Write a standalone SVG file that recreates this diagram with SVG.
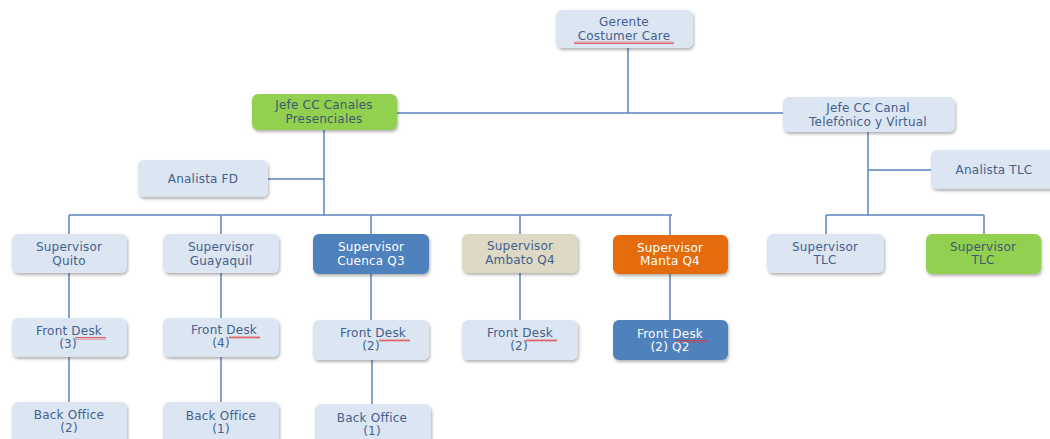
<svg xmlns="http://www.w3.org/2000/svg" width="1050" height="439" viewBox="0 0 1050 439">
<defs>
<filter id="sh" x="-10%" y="-20%" width="125%" height="150%">
<feDropShadow dx="1" dy="2" stdDeviation="1.5" flood-color="#000" flood-opacity="0.3"/>
</filter>
<pattern id="wv" width="4" height="3" patternUnits="userSpaceOnUse">
<path d="M0 2.5L1 0.5L2 2.5L3 0.5L4 2.5" stroke="#e03030" stroke-width="0.7" fill="none"/>
</pattern>
</defs>
<style>
.bx{filter:url(#sh)}
.lt{fill:#dce6f2}
.gr{fill:#92d050}
.bl{fill:#4f81bd}
.tn{fill:#ddd9c4}
.or{fill:#e46c0a}
.sq{fill:url(#wv)}
text{font-family:"DejaVu Sans",Verdana,sans-serif;font-size:12px;letter-spacing:0.2px;text-anchor:middle;fill:#44608f}
.w{fill:#ffffff}
.dk{fill:#3f5a6e}
#connectors path{stroke:#5b84bf;stroke-width:1.5;fill:none}
</style>
<rect width="1050" height="439" fill="#ffffff"/>
<g id="connectors">
<path d="M628 48V113M397 113H783"/>
<path d="M324 130V215M268 179H324M69 215H672M69 215V234M221 215V234M371 215V234M520 215V234M670 215V235"/>
<path d="M868 132V215M868 170H931M826 215H984M826 215V234M984 215V234"/>
<path d="M69 273V318M221 273V318M371 274V320M520 273V320M670 274V320"/>
<path d="M69 357V402M221 357V402M372 360V404"/>
</g>
<g id="gerente"><rect class="bx lt" x="556" y="10" width="137" height="38" rx="6"/><text x="624" y="26">Gerente</text><text x="624" y="40">Costumer Care</text><rect class="sq" x="574" y="41" width="100" height="3"/></g>
<g id="jefe-presenciales"><rect class="bx gr" x="252" y="94" width="145" height="36" rx="6"/><text class="dk" x="324" y="109">Jefe CC Canales</text><text class="dk" x="324" y="123">Presenciales</text></g>
<g id="jefe-telefonico"><rect class="bx lt" x="783" y="97" width="172" height="35" rx="6"/><text x="868" y="112">Jefe CC Canal</text><text x="868" y="126">Telefónico y Virtual</text></g>
<g id="analista-fd"><rect class="bx lt" x="138" y="160" width="130" height="37" rx="6"/><text x="203" y="183">Analista FD</text></g>
<g id="analista-tlc"><rect class="bx lt" x="931" y="150" width="125" height="39" rx="6"/><text x="994" y="174">Analista TLC</text></g>
<g id="sup-quito"><rect class="bx lt" x="12" y="234" width="115" height="39" rx="6"/><text x="69" y="251">Supervisor</text><text x="69" y="265">Quito</text></g>
<g id="sup-guayaquil"><rect class="bx lt" x="163" y="234" width="116" height="39" rx="6"/><text x="221" y="251">Supervisor</text><text x="221" y="265">Guayaquil</text></g>
<g id="sup-cuenca"><rect class="bx bl" x="313" y="234" width="116" height="40" rx="6"/><text class="w" x="371" y="251">Supervisor</text><text class="w" x="371" y="265">Cuenca Q3</text></g>
<g id="sup-ambato"><rect class="bx tn" x="462" y="234" width="116" height="39" rx="6"/><text x="520" y="250">Supervisor</text><text x="520" y="264">Ambato Q4</text></g>
<g id="sup-manta"><rect class="bx or" x="613" y="235" width="115" height="39" rx="6"/><text class="w" x="670" y="252">Supervisor</text><text class="w" x="670" y="265">Manta Q4</text></g>
<g id="sup-tlc1"><rect class="bx lt" x="767" y="234" width="117" height="39" rx="6"/><text x="825" y="251">Supervisor</text><text x="825" y="264">TLC</text></g>
<g id="sup-tlc2"><rect class="bx gr" x="926" y="234" width="115" height="40" rx="6"/><text class="dk" x="983" y="251">Supervisor</text><text class="dk" x="983" y="264">TLC</text></g>
<g id="fd-quito"><rect class="bx lt" x="12" y="318" width="115" height="39" rx="6"/><text x="69" y="335">Front Desk</text><text x="68" y="348">(3)</text><rect class="sq" x="75" y="337" width="31" height="3"/></g>
<g id="fd-guayaquil"><rect class="bx lt" x="163" y="318" width="116" height="39" rx="6"/><text x="224" y="334">Front Desk</text><text x="221" y="347">(4)</text><rect class="sq" x="229" y="336" width="31" height="3"/></g>
<g id="fd-cuenca"><rect class="bx lt" x="313" y="320" width="116" height="40" rx="6"/><text x="373" y="337">Front Desk</text><text x="371" y="350">(2)</text><rect class="sq" x="379" y="339" width="31" height="3"/></g>
<g id="fd-ambato"><rect class="bx lt" x="462" y="320" width="116" height="40" rx="6"/><text x="520" y="337">Front Desk</text><text x="519" y="350">(2)</text><rect class="sq" x="526" y="339" width="31" height="3"/></g>
<g id="fd-manta"><rect class="bx bl" x="613" y="320" width="115" height="40" rx="6"/><text class="w" x="670" y="338">Front Desk</text><text class="w" x="670" y="351">(2) Q2</text><rect class="sq" x="676" y="340" width="31" height="3"/></g>
<g id="bo-quito"><rect class="bx lt" x="12" y="402" width="115" height="45" rx="6"/><text x="69" y="419">Back Office</text><text x="69" y="432">(2)</text></g>
<g id="bo-guayaquil"><rect class="bx lt" x="163" y="402" width="116" height="45" rx="6"/><text x="221" y="420">Back Office</text><text x="221" y="433">(1)</text></g>
<g id="bo-cuenca"><rect class="bx lt" x="315" y="404" width="116" height="45" rx="6"/><text x="372" y="422">Back Office</text><text x="372" y="435">(1)</text></g>
</svg>
